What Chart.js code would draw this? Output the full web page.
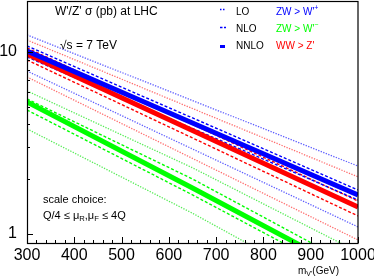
<!DOCTYPE html>
<html>
  <head>
    <title>W'/Z' cross sections at LHC</title>
    <style>
      body { margin: 0; background: #fff; }
    </style>
  </head>
  <body>
    <canvas id="xsecChart" width="374" height="279"></canvas>

    <script src="https://cdn.jsdelivr.net/npm/chart.js@4.4.0/dist/chart.umd.min.js"></script>
    <script>

      // Resonance mass points (GeV)
      const massGeV = [300, 650, 1000];

      // ZW > W'+ (blue): LO band, NLO band, NNLO
      const wpLoUp  = [12.40, 5.41, 2.36];
      const wpNloUp = [10.79, 4.34, 1.745];
      const wpNnlo  = [10.13, 4.07, 1.638];
      const wpNloDn = [9.39, 3.80, 1.537];
      const wpLoDn  = [7.86, 2.93, 1.093];

      // ZW > W'- (green)
      const wmLoUp  = [6.11, 2.31, 0.796];
      const wmNloUp = [5.52, 2.005, 0.650];
      const wmNnlo  = [5.31, 1.79, 0.588];
      const wmNloDn = [4.80, 1.64, 0.538];
      const wmLoDn  = [3.78, 1.30, 0.412];

      // WW > Z' (red)
      const zpLoUp  = [11.64, 4.89, 2.06];
      const zpNloUp = [10.52, 4.00, 1.518];
      const zpNnlo  = [9.75, 3.70, 1.407];
      const zpNloDn = [9.04, 3.37, 1.256];
      const zpLoDn  = [7.29, 2.60, 0.927];

      // Axis ticks
      const xMajorTicks = [300, 400, 500, 600, 700, 800, 900, 1000];
      const xMinorStep = 20;
      const yTicks = [1, 2, 3, 4, 5, 6, 7, 8, 9, 10];
      const yLabels = [1, 10];

      const FONT = "'Liberation Sans', Arial, Helvetica, sans-serif";

      // One line of the plot
      function curve(values, color, kind) {
        const ds = {
          data: massGeV.map((m, i) => ({ x: m, y: values[i] })),
          borderColor: color,
          pointRadius: 0,
          tension: 0,
          fill: false,
          clip: 0
        };
        if (kind === "LO") {
          ds.borderWidth = 1.3;
          ds.borderDash = [1.3, 1.4];
        } else if (kind === "NLO") {
          ds.borderWidth = 1.4;
          ds.borderDash = [3, 2];
        } else {
          ds.borderWidth = 5;
        }
        return ds;
      }

      const BLUE = "#0000ff", RED = "#ff0000", GREEN = "#00ff00";
      const BLUE_LO = "rgba(40,40,255,0.75)", RED_LO = "rgba(255,30,30,0.65)", GREEN_LO = "rgba(30,230,30,0.75)";

      const datasets = [
        curve(wmLoUp, GREEN_LO, "LO"), curve(wmLoDn, GREEN_LO, "LO"),
        curve(wmNnlo, GREEN, "NNLO"),
        curve(wmNloUp, GREEN, "NLO"), curve(wmNloDn, GREEN, "NLO"),
        curve(wpLoUp, BLUE_LO, "LO"), curve(wpLoDn, BLUE_LO, "LO"),
        curve(zpLoUp, RED_LO, "LO"), curve(zpLoDn, RED_LO, "LO"),
        curve(wpNnlo, BLUE, "NNLO"),
        curve(zpNnlo, RED, "NNLO"),
        curve(wpNloUp, BLUE, "NLO"), curve(wpNloDn, BLUE, "NLO"),
        curve(zpNloUp, RED, "NLO"), curve(zpNloDn, RED, "NLO")
      ];

      // Draw text pieces with sub/superscripts, returns end x
      function runText(ctx, parts, x, y, size) {
        for (const p of parts) {
          const s = p.sub || p.sup ? size * 0.7 : size;
          ctx.font = s + "px " + FONT;
          const dy = p.sub ? size * 0.3 : p.sup ? -size * 0.35 : 0;
          ctx.fillText(p.t, x, y + dy);
          x += ctx.measureText(p.t).width;
        }
        return x;
      }

      // Frame, inside ticks and the texts of the figure
      const decorations = {
        id: "decorations",
        afterDraw(chart) {
          const ctx = chart.ctx;
          const a = chart.chartArea;
          const xs = chart.scales.x, ys = chart.scales.y;
          ctx.save();
          ctx.strokeStyle = "#000";
          ctx.lineWidth = 1;
          ctx.beginPath();
          for (let g = xMajorTicks[0]; g <= xMajorTicks[xMajorTicks.length - 1]; g += xMinorStep) {
            const px = Math.round(xs.getPixelForValue(g)) + 0.5;
            const len = xMajorTicks.includes(g) ? 6 : 3;
            ctx.moveTo(px, a.bottom);
            ctx.lineTo(px, a.bottom - len);
          }
          for (const v of yTicks) {
            const py = Math.round(ys.getPixelForValue(v)) + 0.5;
            const len = yLabels.includes(v) ? 6 : 3;
            ctx.moveTo(a.left, py);
            ctx.lineTo(a.left + len, py);
          }
          ctx.stroke();
          ctx.lineWidth = 1.2;
          ctx.strokeRect(a.left + 0.5, a.top + 0.5, a.right - a.left - 0.5, a.bottom - a.top);

          ctx.fillStyle = "#000";
          ctx.textBaseline = "middle";
          ctx.textAlign = "left";
          ctx.font = "12px " + FONT;
          ctx.fillText("W'/Z' \u03c3 (pb) at LHC", 55, 12);
          ctx.fillText("\u221as = 7 TeV", 60, 46);

          // legend
          ctx.font = "10px " + FONT;
          ctx.fillText("LO", 236, 12);
          ctx.fillText("NLO", 236, 29);
          ctx.fillText("NNLO", 236, 46);
          ctx.fillStyle = BLUE;
          runText(ctx, [{ t: "ZW > W'" }, { t: "+", sup: true }], 276, 12, 10);
          ctx.fillStyle = GREEN;
          runText(ctx, [{ t: "ZW > W'" }, { t: "\u2212", sup: true }], 276, 29, 10);
          ctx.fillStyle = RED;
          runText(ctx, [{ t: "WW > Z'" }], 276, 46, 10);

          ctx.strokeStyle = BLUE;
          ctx.lineWidth = 1.5;
          ctx.setLineDash([1.5, 1.5]);
          ctx.beginPath(); ctx.moveTo(220, 9.5); ctx.lineTo(225, 9.5); ctx.stroke();
          ctx.setLineDash([2.5, 1.5]);
          ctx.beginPath(); ctx.moveTo(220, 27.5); ctx.lineTo(226, 27.5); ctx.stroke();
          ctx.setLineDash([]);
          ctx.fillStyle = BLUE;
          ctx.fillRect(220, 45, 5, 3);

          // scale choice note
          ctx.fillStyle = "#000";
          ctx.font = "11px " + FONT;
          ctx.fillText("scale choice:", 43, 200);
          runText(ctx, [
            { t: "Q/4 \u2264 \u03bc" }, { t: "R", sub: true }, { t: ",\u03bc" }, { t: "F", sub: true }, { t: " \u2264 4Q" }
          ], 43, 216, 11);

          // x axis title
          runText(ctx, [{ t: "m" }, { t: "V'", sub: true }, { t: "(GeV)" }], 298, 271, 10);
          ctx.restore();
        }
      };

      const ctx = document.getElementById("xsecChart").getContext("2d");

      const chart = new Chart(ctx, {
        type: "line",
        data: { datasets: datasets },
        options: {
          responsive: false,
          animation: false,
          layout: { padding: { top: 1, right: 16, left: 0, bottom: 0 } },
          plugins: { legend: { display: false }, tooltip: { enabled: false } },
          scales: {
            x: {
              type: "linear",
              min: 300,
              max: 1000,
              afterBuildTicks: (s) => { s.ticks = xMajorTicks.map(v => ({ value: v })); },
              afterFit: (s) => { s.height = 36; s.paddingLeft = 0; s.paddingRight = 0; },
              grid: { display: false, drawTicks: false },
              border: { display: false },
              ticks: {
                autoSkip: false,
                maxRotation: 0,
                padding: 3,
                color: "#000",
                font: { family: FONT, size: 16 },
                callback: (v) => String(v)
              }
            },
            y: {
              type: "logarithmic",
              min: 0.892,
              max: 19.06,
              afterBuildTicks: (s) => { s.ticks = yLabels.map(v => ({ value: v })); },
              afterFit: (s) => { s.width = 27; s.paddingTop = 0; s.paddingBottom = 0; },
              grid: { display: false, drawTicks: false },
              border: { display: false },
              ticks: {
                padding: 10,
                color: "#000",
                font: { family: FONT, size: 16 },
                callback: (v) => String(v)
              }
            }
          }
        },
        plugins: [decorations]
      });

    </script>
  </body>
</html>
